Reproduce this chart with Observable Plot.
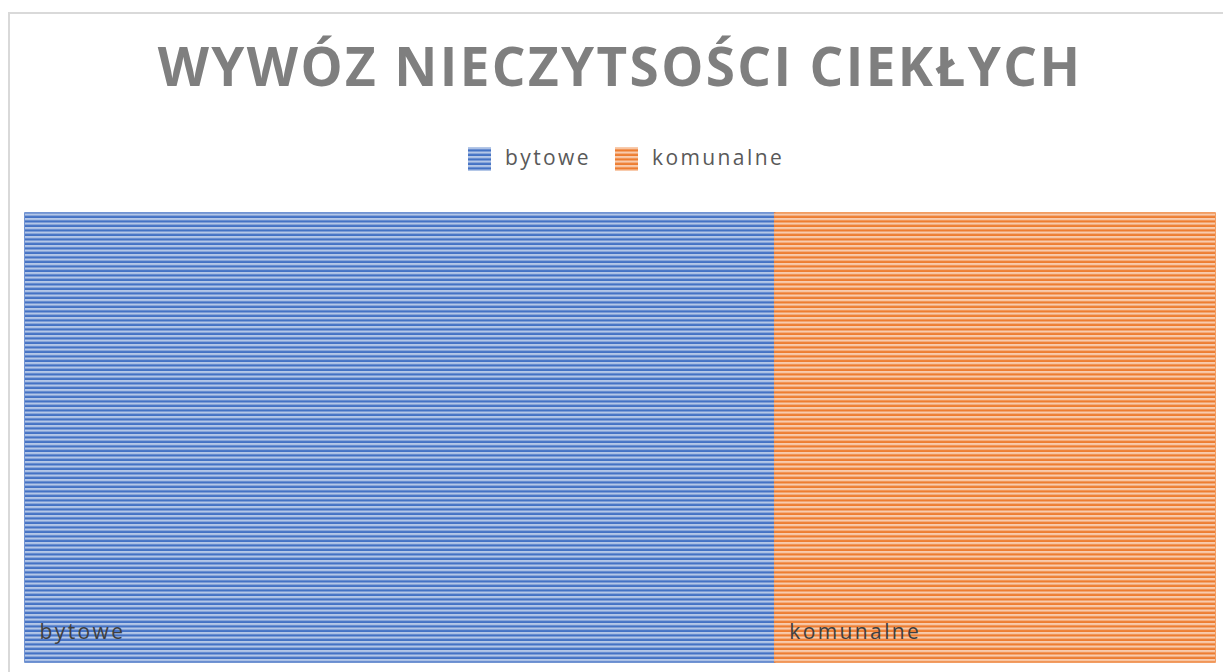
<!DOCTYPE html>
<html><head><meta charset="utf-8">
<script src="https://cdn.jsdelivr.net/npm/d3@7"></script>
<script src="https://cdn.jsdelivr.net/npm/@observablehq/plot@0.6"></script>
<style>
body{margin:0;background:#fff;width:1223px;height:672px;overflow:hidden;position:relative;font-family:"Open Sans",sans-serif}
#frame{position:absolute;left:8px;top:12px;width:1240px;height:700px;border:2px solid #d9d9d9;box-sizing:border-box}
#head{position:absolute;left:0;top:0}
#chart{position:absolute;left:0;top:200px}
</style></head><body>
<svg width="0" height="0" style="position:absolute">
  <defs>
    <pattern id="stripes" patternUnits="userSpaceOnUse" width="10" height="4.5">
      <rect x="0" y="0" width="10" height="2.2" fill="#fff" fill-opacity="0.6"></rect>
    </pattern>
  </defs>
</svg>
<div id="frame"></div>
<svg id="head" width="1223" height="200"></svg>
<div id="chart"></div>
<script>
const categories = ["bytowe", "komunalne"];
const values = [63, 37];
const colors = ["#4472C4", "#ED7D31"];
const titleText = "WYWÓZ NIECZYTSOŚCI CIEKŁYCH";

const data = categories.map((c, i) => ({category: c, value: values[i]}));

// Title and legend
const head = d3.select("#head");
head.append("text").attr("x", 620).attr("y", 86).attr("text-anchor", "middle")
  .attr("font-family", "Open Sans").attr("font-weight", 700).attr("font-size", 53)
  .attr("letter-spacing", 2.4).attr("fill", "#7f7f7f").text(titleText);

const legendX = [468, 615];
categories.forEach((c, i) => {
  const g = head.append("g").attr("transform", `translate(${legendX[i]},147)`);
  g.append("rect").attr("width", 23).attr("height", 24).attr("fill", colors[i]);
  g.append("rect").attr("width", 23).attr("height", 24).attr("fill", "url(#stripes)");
  g.append("text").attr("x", 37).attr("y", 18).attr("font-family", "Open Sans")
    .attr("font-size", 21).attr("letter-spacing", 2.4).attr("fill", "#595959").text(c);
});

const chart = Plot.plot({
  width: 1223,
  height: 472,
  marginLeft: 25,
  marginRight: 8,
  marginTop: 13,
  marginBottom: 10,
  x: {axis: null, domain: [0, d3.sum(values)]},
  y: {axis: null},
  color: {domain: categories, range: colors},
  style: {fontFamily: "Open Sans", letterSpacing: "2.4px", background: "transparent"},
  marks: [
    Plot.barX(data, Plot.stackX({x: "value", fill: "category", stroke: "category", strokeWidth: 1.5})),
    Plot.barX(data, Plot.stackX({x: "value", fill: "url(#stripes)"})),
    Plot.text(data, Plot.stackX1({x: "value", text: "category", frameAnchor: "bottom",
      textAnchor: "start", dx: 14, dy: -24, fontSize: 21, fill: "#404040"}))
  ]
});
document.getElementById("chart").appendChild(chart);
</script>
</body></html>
